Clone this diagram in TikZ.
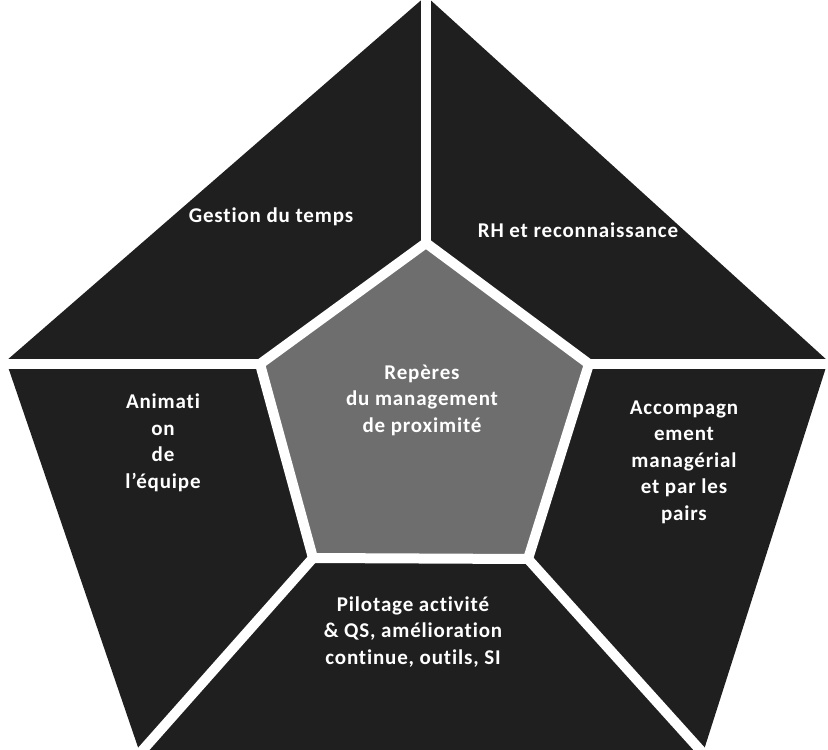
\documentclass[tikz,border=0pt]{standalone}
\usepackage{fontspec}
\setmainfont{Carlito}[Ligatures=NoCommon, LetterSpace=4]
\usetikzlibrary{calc}
\begin{document}
\begin{tikzpicture}[x=1pt,y=-1pt,
  sector/.style={fill=black!88},
  centre/.style={fill=black!57, draw=white, line width=10pt, line join=miter},
  gap/.style={draw=white, line width=10pt},
  lbl/.style={text=white, font=\bfseries\fontsize{21}{26.5}\selectfont, align=center, inner sep=0pt}]
\useasboundingbox (0,0) rectangle (828,750);
% outer pentagon
\coordinate (OT) at (426,-4);
\coordinate (OL) at (6,361);
\coordinate (OR) at (828,361);
\coordinate (OBL) at (141,756);
\coordinate (OBR) at (702,756);
% inner pentagon
\coordinate (IT) at (426,243);
\coordinate (IL) at (260,364);
\coordinate (IR) at (589,364);
\coordinate (IBL) at (313,558);
\coordinate (IBR) at (528,559);
\fill[sector] (OT) -- (OR) -- (OBR) -- (OBL) -- (OL) -- cycle;
% spokes
\draw[gap] (IT) -- (426,-10);
\draw[gap] (IL) -- (-10,364);
\draw[gap] (IR) -- (840,364);
\draw[gap] (IBL) -- ($(IBL)!1.2!(141,752)$);
\draw[gap] (IBR) -- ($(IBR)!1.2!(702,752)$);
\draw[centre] (IT) -- (IR) -- (IBR) -- (IBL) -- (IL) -- cycle;
% labels
\node[lbl] (gestion) at (271,217) {Gestion du temps};
\node[lbl] (rh) at (578,230) {RH et reconnaissance};
\node[lbl] (centre) at (422,400) {Repères\\du management\\de proximité};
\node[lbl] (anim) at (163,443) {Animati\\on\\de\\l'équipe};
\node[lbl] (accomp) at (684,462) {Accompagn\\ement\\managérial\\et par les\\pairs};
\node[lbl] (pilot) at (413,632) {Pilotage activité\\\& QS, amélioration\\continue, outils, SI};
\end{tikzpicture}
\end{document}
